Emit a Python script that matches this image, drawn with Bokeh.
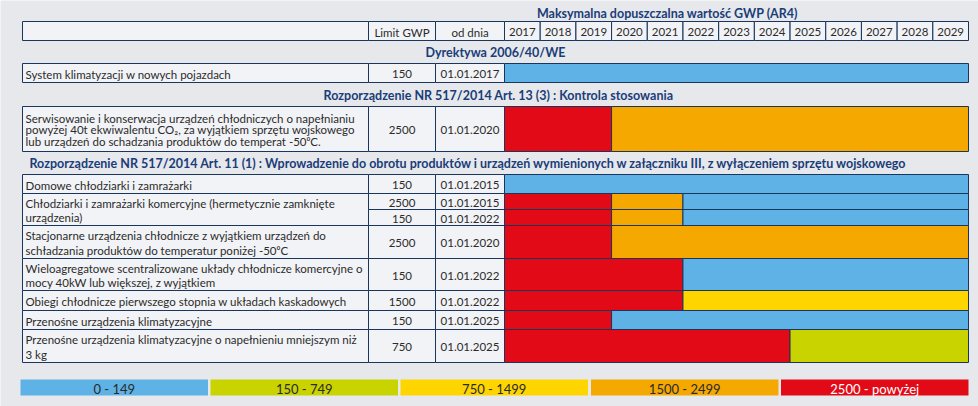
from bokeh.plotting import figure
from bokeh.models import ColumnDataSource, Range1d
from bokeh.embed import file_html
from bokeh.resources import INLINE
from bokeh.core.properties import value

# ---------------- data ----------------
years = [2017, 2018, 2019, 2020, 2021, 2022, 2023, 2024, 2025, 2026, 2027, 2028, 2029]
title_text = "Maksymalna dopuszczalna wartość GWP (AR4)"
header_labels = ["Limit GWP", "od dnia"]
section_titles = [
    "Dyrektywa 2006/40/WE",
    "Rozporządzenie NR 517/2014 Art. 13 (3) : Kontrola stosowania",
    "Rozporządzenie NR 517/2014 Art. 11 (1) : Wprowadzenie do obrotu produktów i urządzeń wymienionych w załączniku III, z wyłączeniem sprzętu wojskowego",
]
desc_labels = [
    "System klimatyzacji w nowych pojazdach",
    "Serwisowanie i konserwacja urządzeń chłodniczych o napełnianiu\npowyżej 40t ekwiwalentu CO\u2082, za wyjątkiem sprzętu wojskowego\nlub urządzeń do schadzania produktów do temperat -50\u2070C.",
    "Domowe chłodziarki i zamrażarki",
    "Chłodziarki i zamrażarki komercyjne (hermetycznie zamknięte\nurządzenia)",
    "Stacjonarne urządzenia chłodnicze z wyjątkiem urządzeń do\nschładzania produktów do temperatur poniżej -50\u2070C",
    "Wieloagregatowe scentralizowane układy chłodnicze komercyjne o\nmocy 40kW lub większej, z wyjątkiem",
    "Obiegi chłodnicze pierwszego stopnia w układach kaskadowych",
    "Przenośne urządzenia klimatyzacyjne",
    "Przenośne urządzenia klimatyzacyjne o napełnieniu mniejszym niż\n3 kg",
]
limits = ["150", "2500", "150", "2500", "150", "2500", "150", "1500", "150", "750"]
dates = ["01.01.2017", "01.01.2020", "01.01.2015", "01.01.2015", "01.01.2022",
         "01.01.2020", "01.01.2022", "01.01.2022", "01.01.2025", "01.01.2025"]
# GWP class segments per table row: (row, first year, year after last, class)
seg_row =   [0,    1,    1,    2,    3,    3,    3,    4,    4,    4,    5,    5,    6,    6,    7,    7,    8,    8,    9,    9]
seg_start = [2017, 2017, 2020, 2017, 2017, 2020, 2022, 2017, 2020, 2022, 2017, 2020, 2017, 2022, 2017, 2022, 2017, 2020, 2017, 2025]
seg_end =   [2030, 2020, 2030, 2030, 2020, 2022, 2030, 2020, 2022, 2030, 2020, 2030, 2022, 2030, 2022, 2030, 2020, 2030, 2025, 2030]
seg_cat =   [0,    4,    3,    0,    4,    3,    0,    4,    3,    0,    4,    3,    4,    0,    4,    2,    4,    0,    4,    1]
legend_labels = ["0 - 149", "150 - 749", "750 - 1499", "1500 - 2499", "2500 - powyżej"]

# ---------------- style / layout ----------------
class_colors = ["#5EB2E5", "#C8D300", "#FFD500", "#F5A800", "#E30A17"]
legend_text_colors = ["#2a2a2a", "#2a2a2a", "#2a2a2a", "#2a2a2a", "#ffffff"]
NAVY = "#1b365d"
TITLE_BLUE = "#1a3d78"
TXT = "#2b2b2b"
FONT = value("Lato")
BG = "#E6E8EC"
CELL = "#F6F7F9"

W, H = 978, 406
PPY = 464 / 13.0          # pixels per year column
X_YEAR0_PX = 504          # pixel position of first year column


def px(x):
    return years[0] + (x - X_YEAR0_PX) / PPY


X_DESC0, X_DESC1 = px(22), px(368)
X_LIM1 = px(435)
X_DATE1 = px(504)

row_top = [63, 106, 174, 193, 209, 225, 258, 290, 310, 329]
row_bot = [82, 151, 193, 209, 225, 258, 290, 310, 329, 362]
desc_span = [(0, 0), (1, 1), (2, 2), (3, 4), (5, 5), (6, 6), (7, 7), (8, 8), (9, 9)]
desc_lh = [1.2, 0.9, 1.2, 1.15, 1.1, 1.08, 1.2, 1.2, 1.1]
section_y = [52, 95, 163]
section_x = [px(495), px(498), px(468)]
HEAD_T, HEAD_B = 21, 40
LEG_T, LEG_B = 379, 395
leg_x0 = [20, 210, 400, 590.5, 780.5]
LEG_W = 187.5

p = figure(width=W, height=H, x_range=Range1d(px(0), px(W)), y_range=Range1d(H, 0),
           output_backend="svg", toolbar_location=None, min_border=0,
           background_fill_color=BG, border_fill_color=BG, outline_line_color=None)
p.axis.visible = False
p.grid.visible = False

# header row
hl = [X_DESC0, X_DESC1, X_LIM1] + [y for y in years]
hr = [X_DESC1, X_LIM1, X_DATE1] + [y + 1 for y in years]
p.quad(left=hl, right=hr, top=[HEAD_T] * len(hl), bottom=[HEAD_B] * len(hl),
       fill_color=CELL, fill_alpha=0.75, line_color=NAVY, line_width=1)
p.text(x=[(X_DESC1 + X_LIM1) / 2, (X_LIM1 + X_DATE1) / 2] + [y + 0.5 for y in years],
       y=[(HEAD_T + HEAD_B) / 2 + 1] * (2 + len(years)),
       text=header_labels + [str(y) for y in years],
       text_font=FONT, text_font_size="11.5px", text_color=TXT,
       text_align="center", text_baseline="middle")

# title
p.text(x=[px(667)], y=[13], text=[title_text], text_font=FONT, text_font_size="12.5px",
       text_font_style="bold", text_color=TITLE_BLUE, text_align="center", text_baseline="middle")

# section titles
p.text(x=section_x, y=section_y, text=section_titles, text_font=FONT, text_font_size="12.5px",
       text_font_style="bold", text_color=TITLE_BLUE, text_align="center", text_baseline="middle")

# description cells
dt = [row_top[a] for a, b in desc_span]
db = [row_bot[b] for a, b in desc_span]
p.quad(left=[X_DESC0] * len(dt), right=[X_DESC1] * len(dt), top=dt, bottom=db,
       fill_color=CELL, fill_alpha=0.75, line_color=NAVY, line_width=1)
src_desc = ColumnDataSource(dict(x=[px(25)] * len(dt), y=[(t + b) / 2 + 1 for t, b in zip(dt, db)],
                                 text=desc_labels, lh=desc_lh))
p.text(x="x", y="y", text="text", source=src_desc, text_font=FONT, text_font_size="11.5px",
       text_color=TXT, text_align="left", text_baseline="middle", text_line_height="lh")

# limit & date cells
n = len(limits)
p.quad(left=[X_DESC1] * n, right=[X_LIM1] * n, top=row_top, bottom=row_bot,
       fill_color=CELL, fill_alpha=0.75, line_color=NAVY, line_width=1)
p.quad(left=[X_LIM1] * n, right=[X_DATE1] * n, top=row_top, bottom=row_bot,
       fill_color=CELL, fill_alpha=0.75, line_color=NAVY, line_width=1)
mid = [(t + b) / 2 + 1 for t, b in zip(row_top, row_bot)]
p.text(x=[(X_DESC1 + X_LIM1) / 2] * n, y=mid, text=limits, text_font=FONT, text_font_size="11.5px",
       text_color=TXT, text_align="center", text_baseline="middle")
p.text(x=[(X_LIM1 + X_DATE1) / 2] * n, y=mid, text=dates, text_font=FONT, text_font_size="11.5px",
       text_color=TXT, text_align="center", text_baseline="middle")

# GWP segments
src_seg = ColumnDataSource(dict(
    left=seg_start, right=seg_end,
    top=[row_top[r] for r in seg_row], bottom=[row_bot[r] for r in seg_row],
    color=[class_colors[c] for c in seg_cat]))
p.quad(left="left", right="right", top="top", bottom="bottom", source=src_seg,
       fill_color="color", line_color=NAVY, line_width=1)

# legend
lx0 = [px(x) for x in leg_x0]
lx1 = [px(x + LEG_W) for x in leg_x0]
p.quad(left=lx0, right=lx1, top=[LEG_T] * 5, bottom=[LEG_B] * 5, fill_color=class_colors, line_color=None)
p.text(x=[(a + b) / 2 for a, b in zip(lx0, lx1)], y=[(LEG_T + LEG_B) / 2 + 1] * 5, text=legend_labels,
       text_font=FONT, text_font_size="13px", text_color=legend_text_colors,
       text_align="center", text_baseline="middle")

open("out.html", "w").write(file_html(p, INLINE))
